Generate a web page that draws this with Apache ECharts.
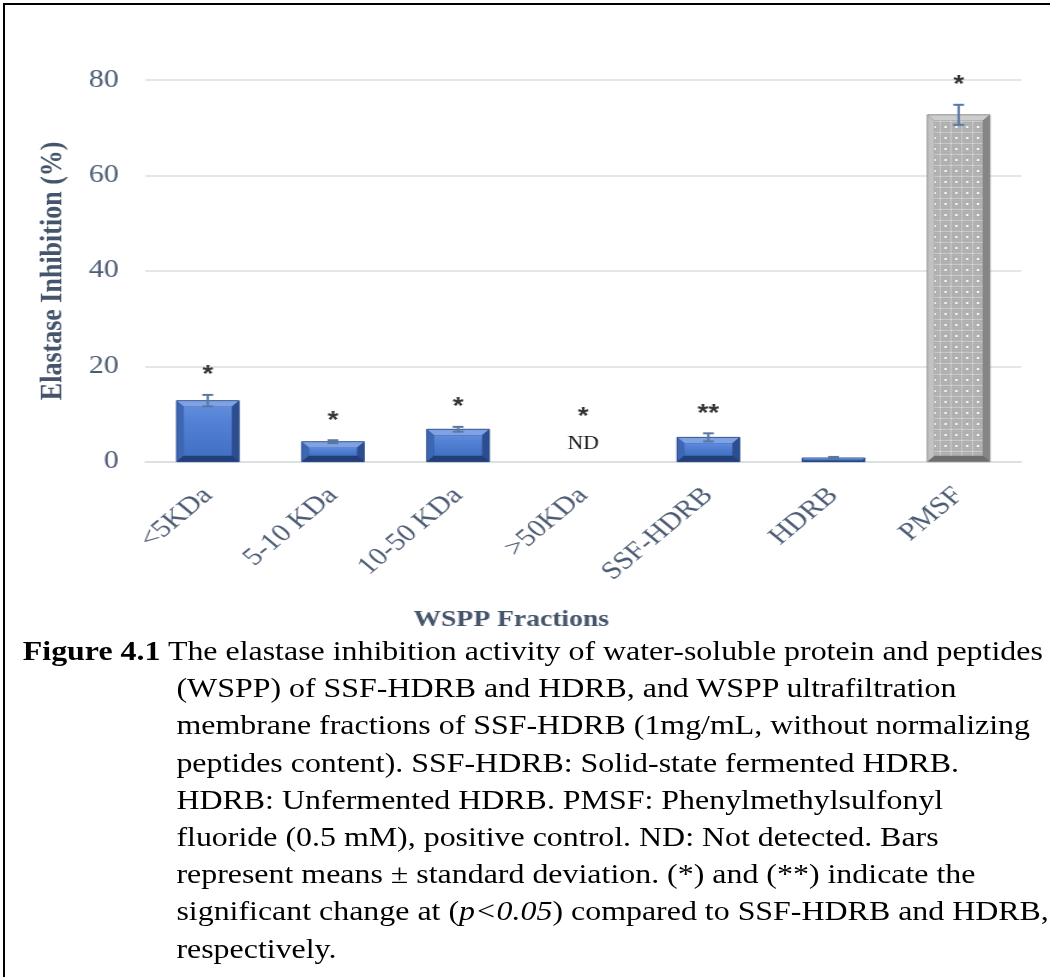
<!DOCTYPE html>
<html>
<head>
<meta charset="utf-8">
<title>Elastase inhibition of WSPP fractions</title>
<script src="https://cdn.jsdelivr.net/npm/echarts@6/dist/echarts.min.js"></script>
<style>
  html, body { margin: 0; padding: 0; background: #fff; overflow: hidden; }
  #frame { position: absolute; left: 3px; top: 3px; width: 1100px; height: 1000px;
           border-left: 2px solid #000; border-top: 2px solid #000; }
  /* the figure was laid out on a narrower page and widened 1.2x */
  #stage { position: absolute; left: 0; top: 0; width: 875px; height: 977px;
           transform: scaleX(1.2); transform-origin: 0 0; }
  #chart { position: absolute; left: 0; top: 0; width: 875px; height: 640px; }
  #caption { position: absolute; left: 19px; top: 633px; font-family: 'Liberation Serif', 'Times New Roman', serif;
             font-size: 26.6px; line-height: 37.2px; color: #000; white-space: nowrap; }
  #caption .ind { padding-left: 128px; }
</style>
</head>
<body>
<div id="frame"></div>
<div id="stage">
  <div id="chart"></div>
  <div id="caption">
    <div><b>Figure 4.1</b> The elastase inhibition activity of water-soluble protein and peptides</div>
    <div class="ind">(WSPP) of SSF-HDRB and HDRB, and WSPP ultrafiltration</div>
    <div class="ind">membrane fractions of SSF-HDRB (1mg/mL, without normalizing</div>
    <div class="ind">peptides content). SSF-HDRB: Solid-state fermented HDRB.</div>
    <div class="ind">HDRB: Unfermented HDRB. PMSF: Phenylmethylsulfonyl</div>
    <div class="ind">fluoride (0.5 mM), positive control. ND: Not detected. Bars</div>
    <div class="ind">represent means ± standard deviation. (*) and (**) indicate the</div>
    <div class="ind">significant change at (<i>p&lt;0.05</i>) compared to SSF-HDRB and HDRB,</div>
    <div class="ind">respectively.</div>
  </div>
</div>
<script>
// Fractions and their elastase inhibition (%), mean and standard deviation
const categories = ['<5KDa', '5-10 KDa', '10-50 KDa', '>50KDa', 'SSF-HDRB', 'HDRB', 'PMSF'];
const meanValues = [12.8, 4.2, 6.8, 0, 5.1, 0.8, 72.7];
const sdValues = [1.2, 0.3, 0.5, 0, 0.85, 0.2, 2.1];
const significance = ['*', '*', '*', '*', '**', '', '*'];
const notes = ['', '', '', 'ND', '', '', ''];
const yTicks = { min: 0, max: 80, interval: 20 };
const positiveControl = 'PMSF';

const SERIF = "'Liberation Serif', 'Times New Roman', serif";
const AXIS_TEXT = '#4C5C74';
const TITLE_TEXT = '#44546A';

// fine dotted grey fill for the positive control bar
function makeDotPattern() {
  const c = document.createElement('canvas');
  c.width = 9; c.height = 11;
  const g = c.getContext('2d');
  g.fillStyle = '#AEAEAE'; g.fillRect(0, 0, 9, 11);
  g.fillStyle = '#B9B9B9';
  for (let y = 0; y < 11; y += 2) for (let x = (y / 2) % 2; x < 9; x += 2) g.fillRect(x, y, 1, 1);
  g.fillStyle = '#C8C8C8';
  g.fillRect(0, 0, 9, 1); g.fillRect(0, 0, 1, 11);
  g.fillStyle = '#F4F4F4'; g.fillRect(4, 5, 2, 2);
  g.fillStyle = '#E2E2E2'; g.fillRect(0, 0, 1, 1);
  return c;
}
const dotPattern = makeDotPattern();

const blueLook = {
  face: new echarts.graphic.LinearGradient(0, 0, 0, 1, [
    { offset: 0, color: '#628DDC' }, { offset: 0.3, color: '#5381D5' }, { offset: 1, color: '#4270C3' }
  ]),
  top: '#7FA2E4', left: '#3D67B5', right: '#2C4D8F', bottom: '#233F78', stroke: '#2A4A86'
};
const greyLook = {
  face: { image: dotPattern, repeat: 'repeat' },
  top: '#CDCDCD', left: '#C2C2C2', right: '#858585', bottom: '#6E6E6E', stroke: '#8A8A8A'
};

function renderBar(params, api) {
  const i = params.dataIndex;
  const idx = api.value(0);
  const mean = api.value(1);
  const sd = api.value(2);
  const base = api.coord([idx, 0]);
  const top = api.coord([idx, mean]);
  const w = api.size([1, 0])[0] * 0.5;
  const x0 = base[0] - w / 2;
  const y0 = top[1];
  const h = base[1] - top[1];
  const look = categories[i] === positiveControl ? greyLook : blueLook;
  const children = [];

  if (h > 0.5) {
    const b = Math.min(6, h / 3, w / 2);
    const x1 = x0 + w, y1 = y0 + h;
    const poly = (pts, fill) => ({ type: 'polygon', shape: { points: pts }, style: { fill: fill } });
    children.push({ type: 'rect', shape: { x: x0, y: y0, width: w, height: h }, style: { fill: look.bottom } });
    children.push(poly([[x0, y0], [x1, y0], [x1 - b, y0 + b], [x0 + b, y0 + b]], look.top));
    children.push(poly([[x0, y0], [x0 + b, y0 + b], [x0 + b, y1 - b], [x0, y1]], look.left));
    children.push(poly([[x1, y0], [x1 - b, y0 + b], [x1 - b, y1 - b], [x1, y1]], look.right));
    children.push(poly([[x0, y1], [x1, y1], [x1 - b, y1 - b], [x0 + b, y1 - b]], look.bottom));
    if (h > 2 * b) {
      children.push({ type: 'rect', shape: { x: x0 + b, y: y0 + b, width: w - 2 * b, height: h - 2 * b },
                      style: { fill: look.face } });
    }
    children.push({ type: 'rect', shape: { x: x0, y: y0, width: w, height: h },
                    style: { fill: 'none', stroke: look.stroke, lineWidth: 0.8 } });
  }

  const hi = api.coord([idx, mean + sd])[1];
  let markY = hi - 20;
  if (sd > 0) {
    const lo = api.coord([idx, mean - sd])[1];
    const cx = base[0];
    const st = { stroke: '#5878A2', lineWidth: 2 };
    children.push({ type: 'line', shape: { x1: cx, y1: hi, x2: cx, y2: lo }, style: st });
    children.push({ type: 'line', shape: { x1: cx - 4.5, y1: hi, x2: cx + 4.5, y2: hi }, style: st });
    children.push({ type: 'line', shape: { x1: cx - 4.5, y1: lo, x2: cx + 4.5, y2: lo }, style: st });
  }
  if (notes[i]) {
    children.push({ type: 'text', style: { text: notes[i], x: base[0], y: base[1] - 17,
      font: '18px ' + SERIF, fill: '#111', align: 'center', verticalAlign: 'middle' } });
    markY = base[1] - 45;
  }
  if (significance[i]) {
    children.push({ type: 'text', style: { text: significance[i], x: base[0], y: markY + 1,
      font: 'bold 23px "Liberation Sans", Arial, sans-serif', fill: '#333', align: 'center', verticalAlign: 'middle' } });
  }
  return { type: 'group', children: children };
}

const chart = echarts.init(document.getElementById('chart'), null, { renderer: 'canvas' });
chart.setOption({
  animation: false,
  backgroundColor: 'transparent',
  grid: { left: 121, right: 24, top: 80, height: 381.7, containLabel: false },
  xAxis: {
    type: 'category',
    data: categories,
    axisLine: { show: true, lineStyle: { color: '#DADEE4', width: 1.6 } },
    axisTick: { show: false },
    axisLabel: { rotate: 45, margin: 30, fontFamily: SERIF, fontSize: 25, color: AXIS_TEXT, interval: 0 }
  },
  yAxis: {
    type: 'value',
    min: yTicks.min, max: yTicks.max, interval: yTicks.interval,
    name: 'Elastase Inhibition (%)',
    nameLocation: 'middle',
    nameGap: 64,
    nameTextStyle: { fontFamily: SERIF, fontSize: 26, fontWeight: 'bold', color: TITLE_TEXT },
    axisLine: { show: false },
    axisTick: { show: false },
    axisLabel: { margin: 22, fontFamily: SERIF, fontSize: 25, color: AXIS_TEXT },
    splitLine: { lineStyle: { color: '#DADEE4', width: 1.6 } }
  },
  graphic: [{
    type: 'text', x: 426, y: 620,
    style: { text: 'WSPP Fractions', font: 'bold 23px ' + SERIF, fill: TITLE_TEXT,
             align: 'center', verticalAlign: 'middle' }
  }],
  series: [{
    type: 'custom',
    renderItem: renderBar,
    encode: { x: 0, y: 1 },
    data: categories.map((c, i) => [i, meanValues[i], sdValues[i]]),
    clip: false
  }]
});
</script>
</body>
</html>
